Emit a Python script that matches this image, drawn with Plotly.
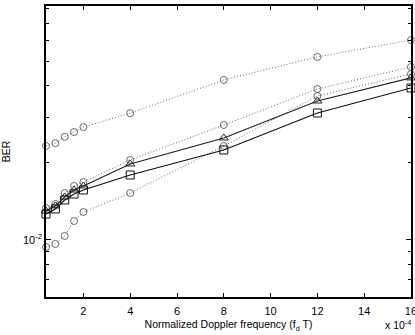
import plotly.graph_objects as go

fd = [0.4, 0.8, 1.2, 1.6, 2, 4, 8, 12, 16]

ber_top_circ = [0.0233, 0.0239, 0.0253, 0.0264, 0.0276, 0.0313, 0.0422, 0.0519, 0.0604]
ber_mid_circ = [0.01334, 0.01382, 0.01526, 0.01625, 0.01685, 0.02054, 0.02813, 0.0389, 0.04741]
ber_tri = [0.01298, 0.01358, 0.01472, 0.01568, 0.01625, 0.01981, 0.02503, 0.03491, 0.04295]
ber_sq = [0.01263, 0.01322, 0.01433, 0.01512, 0.01568, 0.01794, 0.02247, 0.03134, 0.03925]
ber_low_circ = [0.00939, 0.00965, 0.01037, 0.01186, 0.01286, 0.01526, 0.02329, 0.03651, 0.04451]

x_ticks = [2, 4, 6, 8, 10, 12, 14, 16]
y_major = [0.01]
y_major_text = ["10<sup>-2</sup>"]
y_minor = [0.006, 0.007, 0.008, 0.009, 0.02, 0.03, 0.04, 0.05, 0.06, 0.07, 0.08]

FONT = "Liberation Sans, Arial, Helvetica, sans-serif"
dot_col = "#6a6a6a"

fig = go.Figure()

def add(y, symbol, dash, color, width, msize):
    fig.add_trace(go.Scatter(
        x=fd, y=y, mode="lines+markers", cliponaxis=False,
        line=dict(color=color, width=width, dash=dash),
        marker=dict(symbol=symbol, size=msize, color=color,
                    line=dict(color=color, width=1)),
        showlegend=False))

add(ber_top_circ, "circle-open", "1px,2px", dot_col, 1, 7)
add(ber_low_circ, "circle-open", "1px,2px", dot_col, 1, 7)
add(ber_mid_circ, "circle-open", "1px,2px", dot_col, 1, 7)
add(ber_tri, "triangle-up-open", "solid", "#222222", 1.2, 8)
add(ber_sq, "square-open", "solid", "#111111", 1.2, 8)

fig.update_layout(
    width=415, height=335,
    margin=dict(l=46, r=4, t=6, b=38),
    paper_bgcolor="white", plot_bgcolor="white",
    font=dict(family=FONT, size=11, color="black"),
    xaxis=dict(
        range=[0.4, 16.001], tickvals=x_ticks, ticktext=[str(v) for v in x_ticks],
        ticks="inside", ticklen=4, tickcolor="black",
        showline=True, linecolor="black", linewidth=1.5, mirror="ticks",
        showgrid=False, zeroline=False, ticklabeloverflow="allow", automargin=False,
        ticklabelstandoff=3,
        tickfont=dict(size=11),
        title=dict(text="Normalized Doppler frequency (f<sub>d</sub> T)",
                   font=dict(size=10.5), standoff=5),
    ),
    yaxis=dict(
        type="log", range=[-2.2227, -1.086],
        tickvals=y_major, ticktext=y_major_text,
        ticks="inside", ticklen=5, tickcolor="black",
        minor=dict(tickvals=y_minor, ticks="inside", ticklen=3, tickcolor="black", showgrid=False),
        showline=True, linecolor="black", linewidth=1.5, mirror="ticks",
        showgrid=False, zeroline=False, automargin=False,
        tickfont=dict(size=11),
        title=dict(text="BER", font=dict(size=10.5), standoff=10),
    ),
)

fig.add_annotation(x=1.0, y=0, xref="paper", yref="paper", xanchor="right", yanchor="middle",
                   yshift=-27, xshift=2, showarrow=False,
                   text="x 10<sup>-4</sup>", font=dict(size=10.5))

fig.write_html("out.html", config={"displayModeBar": False},
               post_script="document.body.style.margin='0px';document.body.style.overflow='hidden';")
